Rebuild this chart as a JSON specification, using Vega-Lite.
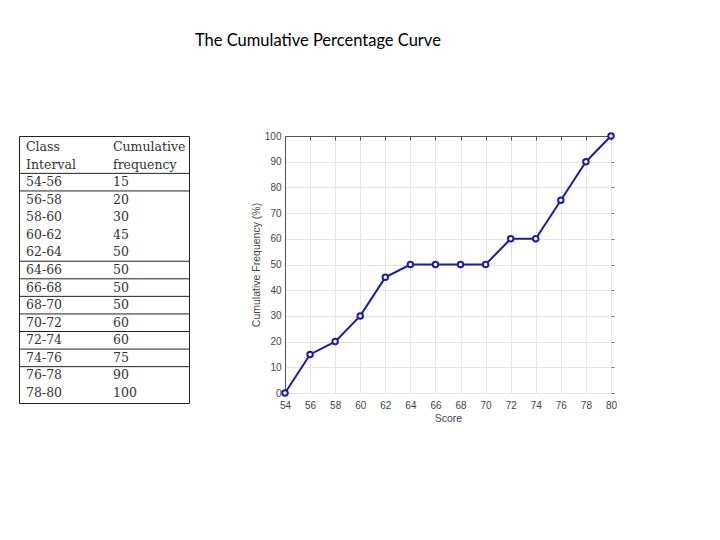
{
  "$schema": "https://vega.github.io/schema/vega-lite/v6.json",
  "background": "white",
  "padding": {"left": 18, "top": 32, "right": 5, "bottom": 5},
  "bounds": "flush",
  "spacing": 96,
  "title": {"text": "The Cumulative Percentage Curve", "font": "Lato", "fontSize": 16.5, "fontWeight": "normal", "color": "#000", "anchor": "middle", "offset": 80},
  "config": {"view": {"stroke": null}},
  "hconcat": [
    {
      "width": 170,
      "height": 267,
      "view": {"stroke": "#222", "strokeWidth": 1},
      "layer": [
        {
          "data": {"values": [
            {"c1": "Class", "c2": "Cumulative"},
            {"c1": "Interval", "c2": "frequency"},
            {"c1": "54-56", "c2": "15"},
            {"c1": "56-58", "c2": "20"},
            {"c1": "58-60", "c2": "30"},
            {"c1": "60-62", "c2": "45"},
            {"c1": "62-64", "c2": "50"},
            {"c1": "64-66", "c2": "50"},
            {"c1": "66-68", "c2": "50"},
            {"c1": "68-70", "c2": "50"},
            {"c1": "70-72", "c2": "60"},
            {"c1": "72-74", "c2": "60"},
            {"c1": "74-76", "c2": "75"},
            {"c1": "76-78", "c2": "90"},
            {"c1": "78-80", "c2": "100"}
          ]},
          "transform": [
            {"calculate": "datum.c1", "as": "row"},
            {"fold": ["c1", "c2"], "as": ["col", "txt"]}
          ],
          "mark": {"type": "text", "align": "left", "baseline": "middle", "font": "DejaVu Serif", "fontSize": 12.5, "color": "#333"},
          "encoding": {
            "x": {"field": "col", "type": "nominal", "scale": {"type": "point", "domain": ["c1", "c2"], "range": [7, 94], "padding": 0}, "axis": null},
            "y": {"field": "row", "type": "ordinal", "scale": {"type": "point", "domain": ["Class", "Interval", "54-56", "56-58", "58-60", "60-62", "62-64", "64-66", "66-68", "68-70", "70-72", "72-74", "74-76", "76-78", "78-80"], "range": [11, 257], "padding": 0}, "axis": null},
            "text": {"field": "txt"}
          }
        },
        {
          "data": {"values": [
            {"after": "Interval"}, {"after": "54-56"}, {"after": "62-64"}, {"after": "64-66"}, {"after": "66-68"}, {"after": "68-70"}, {"after": "70-72"}, {"after": "72-74"}, {"after": "74-76"}
          ]},
          "mark": {"type": "rule", "color": "#222", "strokeWidth": 1},
          "encoding": {
            "y": {"field": "after", "type": "ordinal", "axis": null},
            "yOffset": {"value": 8.8}
          }
        }
      ]
    },
    {
      "width": 326,
      "height": 257,
      "data": {"values": [
        {"score": 54, "freq": 0},
        {"score": 56, "freq": 15},
        {"score": 58, "freq": 20},
        {"score": 60, "freq": 30},
        {"score": 62, "freq": 45},
        {"score": 64, "freq": 50},
        {"score": 66, "freq": 50},
        {"score": 68, "freq": 50},
        {"score": 70, "freq": 50},
        {"score": 72, "freq": 60},
        {"score": 74, "freq": 60},
        {"score": 76, "freq": 75},
        {"score": 78, "freq": 90},
        {"score": 80, "freq": 100}
      ]},
      "encoding": {
        "x": {"field": "score", "type": "quantitative", "scale": {"domain": [54, 80], "nice": false, "zero": false}},
        "y": {"field": "freq", "type": "quantitative", "scale": {"domain": [0, 100], "nice": false}}
      },
      "layer": [
        {
          "mark": {"type": "line", "color": "#1c1ca6", "strokeWidth": 2},
          "encoding": {
            "x": {"field": "score", "type": "quantitative", "axis": {"orient": "bottom", "values": [54, 56, 58, 60, 62, 64, 66, 68, 70, 72, 74, 76, 78, 80], "grid": true, "gridColor": "#e4e4e4", "domain": false, "ticks": false, "labelFlush": false, "labelPadding": 7, "labelFont": "Liberation Sans", "labelFontSize": 10, "labelColor": "#444", "title": "Score", "titleFont": "Liberation Sans", "titleFontSize": 10.5, "titleFontWeight": "normal", "titleColor": "#444", "titlePadding": 3}},
            "y": {"field": "freq", "type": "quantitative", "axis": {"orient": "left", "values": [0, 10, 20, 30, 40, 50, 60, 70, 80, 90, 100], "grid": true, "gridColor": "#e4e4e4", "domain": true, "domainColor": "#555", "ticks": false, "labelFlush": false, "labelPadding": 4, "labelFont": "Liberation Sans", "labelFontSize": 10, "labelColor": "#444", "title": "Cumulative Frequency (%)", "titleFont": "Liberation Sans", "titleFontSize": 10.5, "titleFontWeight": "normal", "titleColor": "#444", "titlePadding": 3}}
          }
        },
        {
          "mark": {"type": "point", "shape": "circle", "filled": false, "fill": "white", "fillOpacity": 1, "color": "#1c1ca6", "stroke": "#1c1ca6", "strokeWidth": 2, "size": 30, "opacity": 1},
          "encoding": {
            "x": {"field": "score", "type": "quantitative", "axis": {"orient": "top", "values": [54, 56, 58, 60, 62, 64, 66, 68, 70, 72, 74, 76, 78, 80], "grid": false, "labels": false, "title": null, "domain": true, "domainColor": "#555", "ticks": true, "tickSize": -4, "tickColor": "#555"}},
            "y": {"field": "freq", "type": "quantitative", "axis": {"orient": "right", "values": [0, 10, 20, 30, 40, 50, 60, 70, 80, 90, 100], "grid": false, "labels": false, "title": null, "domain": false, "ticks": true, "tickSize": 3, "tickColor": "#777"}}
          }
        }
      ],
      "resolve": {"axis": {"x": "independent", "y": "independent"}}
    }
  ]
}
